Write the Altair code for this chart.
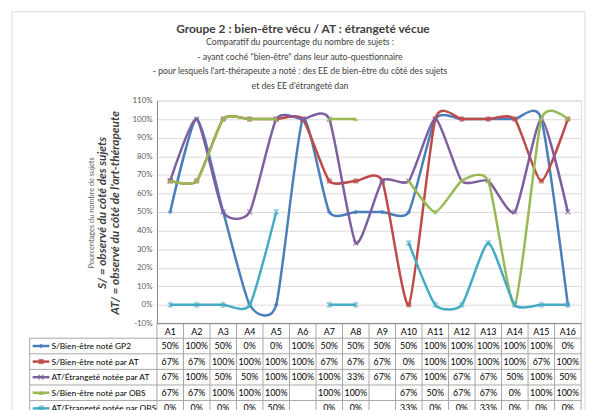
import altair as alt
import pandas as pd

# ---------------- data ----------------
cats = [f"A{i}" for i in range(1, 17)]
series = [
    "S/Bien-être noté GP2",
    "S/Bien-être noté par AT",
    "AT/Étrangeté notée par AT",
    "S/Bien-être noté par OBS",
    "AT/Etrangeté notée par OBS",
]
gp2 = [50, 100, 50, 0, 0, 100, 50, 50, 50, 50, 100, 100, 100, 100, 100, 0]
s_at = [66.7, 66.7, 100, 100, 100, 100, 66.7, 66.7, 66.7, 0, 100, 100, 100, 100, 66.7, 100]
at_at = [66.7, 100, 50, 50, 100, 100, 100, 33.3, 66.7, 66.7, 100, 66.7, 66.7, 50, 100, 50]
s_obs = [66.7, 66.7, 100, 100, 100, None, 100, 100, None, 66.7, 50, 66.7, 66.7, 0, 100, 100]
at_obs = [0, 0, 0, 0, 50, None, 0, 0, None, 33.3, 0, 0, 33.3, 0, 0, 0]

title_text = "Groupe 2 : bien-être vécu / AT : étrangeté vécue"
subtitle_lines = [
    "Comparatif du pourcentage du nombre de sujets :",
    "- ayant coché \"bien-être\" dans leur auto-questionnaire",
    "- pour lesquels l'art-thérapeute a noté : des EE de bien-être du côté des sujets",
    "et des EE d'étrangeté dan",
]
ytitle_lines = [
    "Pourcentages du nombre de sujets",
    "S/ = observé du côté des sujets",
    "AT/ = observé du côté de l'art-thérapeute",
]

# ---------------- styles ----------------
colors = ["#4A7EBB", "#BE4B48", "#7D5FA0", "#98B954", "#46AAC5"]
shapes = ["diamond", "square", "M-1,-1L1,1M-1,1L1,-1", "triangle-up",
          "M-1,-1L1,1M-1,1L1,-1M0,-1.3L0,1.3"]
filled = [True, True, False, True, False]
FONT = "Lato"
W, H = 430, 226
STEP = W / len(cats)
TABLE_C = "#a6a6a6"
ROW0, ROWH = 248.9, 15.8

rows = []
for s, vals in zip(series, [gp2, s_at, at_at, s_obs, at_obs]):
    for c, v in zip(cats, vals):
        rows.append({"series": s, "cat": c, "value": v,
                     "label": "" if v is None else f"{round(v)}%"})
df = pd.DataFrame(rows)
one = pd.DataFrame({"k": [0]})

X = alt.X("cat:N", sort=cats, scale=alt.Scale(type="point", domain=cats, padding=0.5), axis=None)
Y = alt.Y("value:Q", scale=alt.Scale(domain=[-10, 110], nice=False, zero=False),
          axis=alt.Axis(values=list(range(-10, 111, 10)), labelExpr="datum.value + '%'",
                        title=None, grid=True, gridColor="#d9d9d9", gridWidth=1,
                        domainColor="#868686", ticks=False, labelFontSize=8,
                        labelColor="#595959", labelFont=FONT, labelPadding=5))
TY = alt.Y("series:N", sort=series,
           scale=alt.Scale(type="point", domain=series,
                           range=[ROW0, ROW0 + ROWH * (len(series) - 1)], padding=0),
           axis=None)

# ---------------- plot group ----------------
border = alt.Chart(one).mark_rect(filled=False, stroke="#d9d9d9", strokeWidth=1).encode(
    x=alt.value(-147), x2=alt.value(434), y=alt.value(-90), y2=alt.value(340))

plot_layers = [border]
for i, s in enumerate(series):
    d = df[df["series"] == s]
    plot_layers.append(
        alt.Chart(d).mark_line(interpolate="cardinal", tension=0.4, strokeWidth=2.5,
                               color=colors[i],
                               invalid="break-paths-filter-domains").encode(x=X, y=Y))
    plot_layers.append(
        alt.Chart(d).mark_point(shape=shapes[i], filled=filled[i], color=colors[i], size=26,
                                opacity=0.7, strokeWidth=1.2).encode(x=X, y=Y))

# y-axis title lines (rotated)
ytitle_x = [-66, -56, -42]
ytitle_style = [
    dict(fontSize=7.5, fontStyle="normal", fontWeight="normal", color="#595959"),
    dict(fontSize=12, fontStyle="italic", fontWeight="bold", color="#404040"),
    dict(fontSize=12, fontStyle="italic", fontWeight="bold", color="#404040"),
]
for t, xx, st in zip(ytitle_lines, ytitle_x, ytitle_style):
    plot_layers.append(
        alt.Chart(one).mark_text(angle=270, font=FONT, align="center", baseline="middle", **st)
        .encode(x=alt.value(xx), y=alt.value(114), text=alt.value(t)))

# chart title lines
TITLE_X = 148
plot_layers.append(
    alt.Chart(one).mark_text(font=FONT, fontSize=12.1, fontWeight="bold", color="#404040",
                             align="center", baseline="middle")
    .encode(x=alt.value(TITLE_X), y=alt.value(-72), text=alt.value(title_text)))
for j, t in enumerate(subtitle_lines):
    plot_layers.append(
        alt.Chart(one).mark_text(font=FONT, fontSize=8.8, color="#404040",
                                 align="center", baseline="middle")
        .encode(x=alt.value(TITLE_X - 3), y=alt.value(-59.5 + 15 * j), text=alt.value(t)))

plot_group = alt.layer(*plot_layers)

# ---------------- data table group ----------------
cat_df = pd.DataFrame({"cat": cats})
ser_df = pd.DataFrame({"series": series})
table_layers = [
    # vertical borders
    alt.Chart(cat_df).mark_rule(xOffset=-STEP / 2, color=TABLE_C, strokeWidth=1).encode(
        x=X, y=alt.value(H), y2=alt.value(340)),
    alt.Chart(pd.DataFrame({"cat": [cats[-1]]})).mark_rule(xOffset=STEP / 2, color=TABLE_C,
                                                           strokeWidth=1).encode(
        x=X, y=alt.value(H), y2=alt.value(340)),
    alt.Chart(one).mark_rule(color=TABLE_C, strokeWidth=1).encode(
        x=alt.value(-129), y=alt.value(ROW0 - ROWH / 2), y2=alt.value(340)),
    # horizontal borders
    alt.Chart(one).mark_rule(color="#868686", strokeWidth=1).encode(
        x=alt.value(0), x2=alt.value(W), y=alt.value(H)),
    alt.Chart(one).mark_rule(color=TABLE_C, strokeWidth=1).encode(
        x=alt.value(-129), x2=alt.value(W), y=alt.value(ROW0 - ROWH / 2)),
    alt.Chart(ser_df).mark_rule(yOffset=ROWH / 2, color=TABLE_C, strokeWidth=1).encode(
        x=alt.value(-129), x2=alt.value(W), y=TY),
    # header
    alt.Chart(cat_df).mark_text(font=FONT, fontSize=9, color="#000000").encode(
        x=X, y=alt.value((H + ROW0 - ROWH / 2) / 2 + 1), text="cat:N"),
    # cells
    alt.Chart(df).mark_text(font=FONT, fontSize=9, color="#000000").encode(
        x=X, y=TY, text="label:N"),
    # legend labels
    alt.Chart(ser_df).mark_text(font=FONT, fontSize=8.5, color="#000000", align="left").encode(
        x=alt.value(-107), y=TY, text="series:N"),
]
for i, s in enumerate(series):
    sd = pd.DataFrame({"series": [s]})
    table_layers.append(
        alt.Chart(sd).mark_rule(color=colors[i], strokeWidth=2.5).encode(
            x=alt.value(-126), x2=alt.value(-109), y=TY))
    table_layers.append(
        alt.Chart(sd).mark_point(shape=shapes[i], filled=filled[i], color=colors[i], size=26,
                                 opacity=0.85, strokeWidth=1.2).encode(x=alt.value(-117.5), y=TY))

table_group = alt.layer(*table_layers)

chart = alt.layer(plot_group, table_group).resolve_scale(y="independent").properties(
    width=W, height=H, autosize="none",
    padding={"left": 151, "top": 91, "right": 7, "bottom": 85},
).configure_view(stroke=None).configure(background="white")

chart.save("out.html", embed_options={"renderer": "svg", "actions": False})
